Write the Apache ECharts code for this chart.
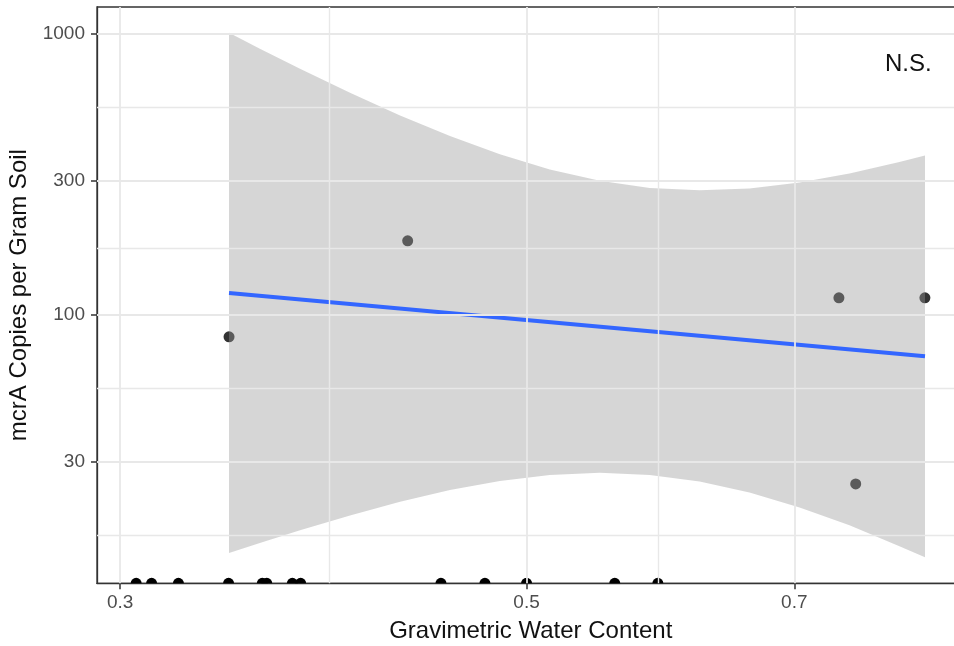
<!DOCTYPE html>
<html>
<head>
<meta charset="utf-8">
<script src="https://cdn.jsdelivr.net/npm/echarts@6/dist/echarts.min.js"></script>
<style>
  html, body { margin: 0; padding: 0; background: #ffffff; }
  #chart { width: 954px; height: 646px; }
</style>
</head>
<body>
<div id="chart"></div>
<script>
// Samples with a measurable mcrA abundance
const waterContent = [0.344, 0.4306, 0.7404, 0.8249, 0.7562];
const mcrACopies = [83.5, 183.5, 115.0, 115.0, 25.0];

// Samples below detection: drawn on the lower edge of the panel
const zeroWaterContent = [0.3061, 0.3121, 0.3228, 0.3438, 0.3587, 0.3607, 0.3725,
  0.3764, 0.4490, 0.4745, 0.5000, 0.5586, 0.5897];

// Log-log regression line and its 95% confidence band
const fitX = [0.344, 0.825];
const fitY = [119.6, 71.2];
const bandX = [0.344, 0.3576, 0.3761, 0.4005, 0.4265, 0.4541, 0.4835, 0.5148,
  0.5482, 0.5837, 0.6215, 0.6617, 0.7047, 0.7503, 0.7989, 0.825];
const bandUpper = [1011, 887, 752, 618, 513, 433, 373, 329, 300, 283, 278, 282, 296, 319, 350, 369];
const bandLower = [14.2, 15.4, 17.1, 19.3, 21.6, 23.8, 25.6, 26.9, 27.4, 26.9, 25.5, 23.3, 20.6, 17.8, 15.0, 13.7];

// Axis breaks
const xTicks = [0.3, 0.5, 0.7];
const xMinorTicks = [0.3873, 0.5916];
const yTicks = [30, 100, 300, 1000];
const yMinorTicks = [16.43, 54.77, 173.2, 547.7];
const xRange = [0.2914, 0.867];
const yRange = [11.07, 1248];

const FONT = "'Liberation Sans', Arial, Helvetica, sans-serif";

const chart = echarts.init(document.getElementById('chart'), null, { renderer: 'canvas' });

const gridLines = [];
yTicks.forEach(v => gridLines.push({ yAxis: v, lineStyle: { width: 1.8 } }));
yMinorTicks.forEach(v => gridLines.push({ yAxis: v, lineStyle: { width: 1.4 } }));
xTicks.forEach(v => gridLines.push({ xAxis: v, lineStyle: { width: 1.8 } }));
xMinorTicks.forEach(v => gridLines.push({ xAxis: v, lineStyle: { width: 1.4 } }));

const pointData = waterContent.map((x, i) => [x, mcrACopies[i]]);
const zeroData = zeroWaterContent.map(x => [x]);
const fitData = fitX.map((x, i) => [x, fitY[i]]);
const bandData = bandX.map((x, i) => [x, bandUpper[i], bandLower[i]]);

const option = {
  backgroundColor: '#ffffff',
  animation: false,
  grid: {
    left: 97, top: 7, width: 867.5, height: 576.3,
    outerBoundsMode: 'none',
    containLabel: false,
    show: true, borderColor: '#333333', borderWidth: 1.3,
    backgroundColor: 'transparent'
  },
  xAxis: {
    type: 'log',
    logBase: 10,
    min: xRange[0], max: xRange[1],
    name: 'Gravimetric Water Content',
    nameLocation: 'middle',
    nameGap: 36,
    nameTextStyle: { fontFamily: FONT, fontSize: 24, color: '#111111' },
    axisLine: { show: true, lineStyle: { color: '#333333', width: 1.3 } },
    axisTick: { show: true, length: 6, lineStyle: { color: '#333333', width: 1.5 }, customValues: xTicks },
    axisLabel: {
      show: true, customValues: xTicks, margin: 10,
      fontFamily: FONT, fontSize: 19, color: '#4d4d4d',
      formatter: v => String(+(+v).toFixed(2))
    },
    splitLine: { show: false },
    minorSplitLine: { show: false }
  },
  yAxis: {
    type: 'log',
    logBase: 10,
    min: yRange[0], max: yRange[1],
    name: 'mcrA Copies per Gram Soil',
    nameLocation: 'middle',
    nameGap: 60,
    nameTextStyle: { fontFamily: FONT, fontSize: 24, color: '#111111' },
    axisLine: { show: true, lineStyle: { color: '#333333', width: 1.3 } },
    axisTick: { show: true, length: 6, lineStyle: { color: '#333333', width: 1.5 }, customValues: yTicks },
    axisLabel: {
      show: true, customValues: yTicks, margin: 12,
      fontFamily: FONT, fontSize: 19, color: '#4d4d4d',
      formatter: v => String(Math.round(v))
    },
    splitLine: { show: false },
    minorSplitLine: { show: false }
  },
  graphic: [{
    type: 'text',
    left: 885, top: 52,
    style: { text: 'N.S.', fontFamily: FONT, fontSize: 24, fill: '#111111' },
    z: 10
  }],
  series: [
    {
      // panel grid lines
      type: 'scatter',
      data: [],
      z: 1,
      silent: true,
      markLine: {
        silent: true,
        symbol: ['none', 'none'],
        label: { show: false },
        lineStyle: { color: '#e8e8e8', type: 'solid' },
        emphasis: { disabled: true },
        data: gridLines
      }
    },
    {
      type: 'scatter',
      data: pointData,
      symbol: 'circle',
      symbolSize: 11,
      itemStyle: { color: '#000000' },
      z: 2,
      silent: true
    },
    {
      type: 'custom',
      data: zeroData,
      clip: true,
      z: 2,
      silent: true,
      renderItem: (params, api) => {
        const p = api.coord([api.value(0), yRange[0]]);
        return {
          type: 'circle',
          shape: { cx: p[0], cy: p[1], r: 5.5 },
          style: { fill: '#000000' }
        };
      }
    },
    {
      type: 'custom',
      data: [0],
      clip: true,
      z: 3,
      silent: true,
      renderItem: (params, api) => {
        const upper = bandData.map(d => api.coord([d[0], d[1]]));
        const lower = bandData.slice().reverse().map(d => api.coord([d[0], d[2]]));
        return {
          type: 'polygon',
          shape: { points: upper.concat(lower) },
          style: { fill: 'rgba(153,153,153,0.4)', stroke: null }
        };
      }
    },
    {
      type: 'line',
      data: fitData,
      showSymbol: false,
      symbol: 'none',
      lineStyle: { color: '#3366ff', width: 4 },
      z: 4,
      silent: true
    }
  ]
};

chart.setOption(option);
</script>
</body>
</html>
